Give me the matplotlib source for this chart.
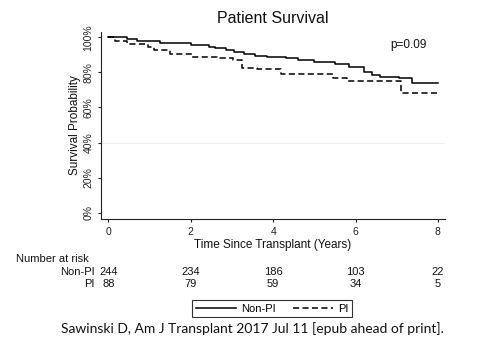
import matplotlib
matplotlib.use('Agg')
import matplotlib.pyplot as plt
from matplotlib.transforms import blended_transform_factory

plt.rcParams['font.family'] = ['Liberation Sans', 'DejaVu Sans']

# ── Data ──────────────────────────────────────────────────────────────────────
nonpi_time = [0, 0.45, 0.69, 1.25, 2.0, 2.45, 2.6, 2.85, 3.05, 3.3, 3.55, 3.85,
              4.3, 4.6, 5.0, 5.5, 5.85, 6.2, 6.4, 6.6, 7.05, 7.36, 8.0]
nonpi_surv = [100, 98.8, 97.9, 96.9, 95.6, 94.6, 93.7, 92.8, 91.8, 90.6, 89.3, 88.6,
              88.0, 87.0, 85.7, 84.5, 83.2, 80.4, 78.5, 77.5, 76.6, 74.1, 74.1]

pi_time = [0, 0.17, 0.45, 0.95, 1.1, 1.5, 2.02, 2.63, 3.03, 3.24, 3.6, 4.2,
           5.45, 5.8, 7.1, 8.0]
pi_surv = [100, 98.0, 96.2, 94.5, 92.5, 90.3, 88.6, 88.0, 87.0, 82.7, 81.8, 79.3,
           77.0, 75.1, 68.1, 68.1]

risk_times = [0, 2, 4, 6, 8]
risk_nonpi = [244, 234, 186, 103, 22]
risk_pi = [88, 79, 59, 34, 5]

x_ticks = [0, 2, 4, 6, 8]
y_ticks = [0, 20, 40, 60, 80, 100]
y_ticklabels = ['0%', '20%', '40%', '60%', '80%', '100%']

# ── Figure ────────────────────────────────────────────────────────────────────
fig = plt.figure(figsize=(5.01, 3.41), dpi=100)
fig.patch.set_facecolor('white')
ax = fig.add_axes([0.2016, 0.3569, 0.6864, 0.5501])

ax.axhline(40, color='#eeeeee', linewidth=0.8, zorder=0)
ax.step(nonpi_time, nonpi_surv, where='post', color='black', linewidth=1.1,
        label='Non-PI')
ax.step(pi_time, pi_surv, where='post', color='black', linewidth=1.1,
        dashes=(4, 2.2), label='PI')

ax.set_xlim(-0.18, 8.17)
ax.set_ylim(-3.8, 103.2)
ax.set_xticks(x_ticks)
ax.set_yticks(y_ticks)
ax.set_yticklabels(y_ticklabels, rotation=90, va='center')
ax.tick_params(direction='out', length=2.5, width=0.8, labelsize=7.5,
               colors='#222222')
ax.tick_params(axis='y', pad=3)
ax.tick_params(axis='x', pad=3)
for s in ['top', 'right']:
    ax.spines[s].set_visible(False)
for s in ['left', 'bottom']:
    ax.spines[s].set_linewidth(0.8)
    ax.spines[s].set_color('#222222')

ax.set_title('Patient Survival', fontsize=11.5, color='#111111', pad=6)
ax.set_xlabel('Time Since Transplant (Years)', fontsize=8.5, color='#111111',
              labelpad=1.5)
ax.set_ylabel('Survival Probability', fontsize=8.5, color='#111111', labelpad=2)
ax.text(0.895, 0.93, 'p=0.09', transform=ax.transAxes, fontsize=8.5,
        ha='center', va='center', color='#111111')

# ── Number at risk table ──────────────────────────────────────────────────────
tr = blended_transform_factory(ax.transData, fig.transFigure)
fig.text(0.032, 0.2405, 'Number at risk', fontsize=8, ha='left', va='center',
         color='#111111')
fig.text(0.1896, 0.2023, 'Non-PI', fontsize=8, ha='right', va='center',
         color='#111111')
fig.text(0.1896, 0.167, 'PI', fontsize=8, ha='right', va='center',
         color='#111111')
for t, n1, n2 in zip(risk_times, risk_nonpi, risk_pi):
    ax.text(t, 0.2023, str(n1), transform=tr, fontsize=8, ha='center',
            va='center', color='#111111', clip_on=False)
    ax.text(t, 0.167, str(n2), transform=tr, fontsize=8, ha='center',
            va='center', color='#111111', clip_on=False)

# ── Legend ────────────────────────────────────────────────────────────────────
leg = fig.legend(loc='center', bbox_to_anchor=(0.543, 0.0953), ncol=2,
                 fontsize=8, frameon=True, fancybox=False, handlelength=3.6,
                 columnspacing=1.5, handletextpad=0.5, borderpad=0.35,
                 borderaxespad=0)
leg.get_frame().set_edgecolor('black')
leg.get_frame().set_linewidth(0.8)

fig.text(0.503, 0.038, 'Sawinski D, Am J Transplant 2017 Jul 11 [epub ahead of print].',
         fontsize=10, ha='center', va='center', color='#111111',
         family=['Lato', 'DejaVu Sans'])

fig.savefig('out.png', dpi=100)
